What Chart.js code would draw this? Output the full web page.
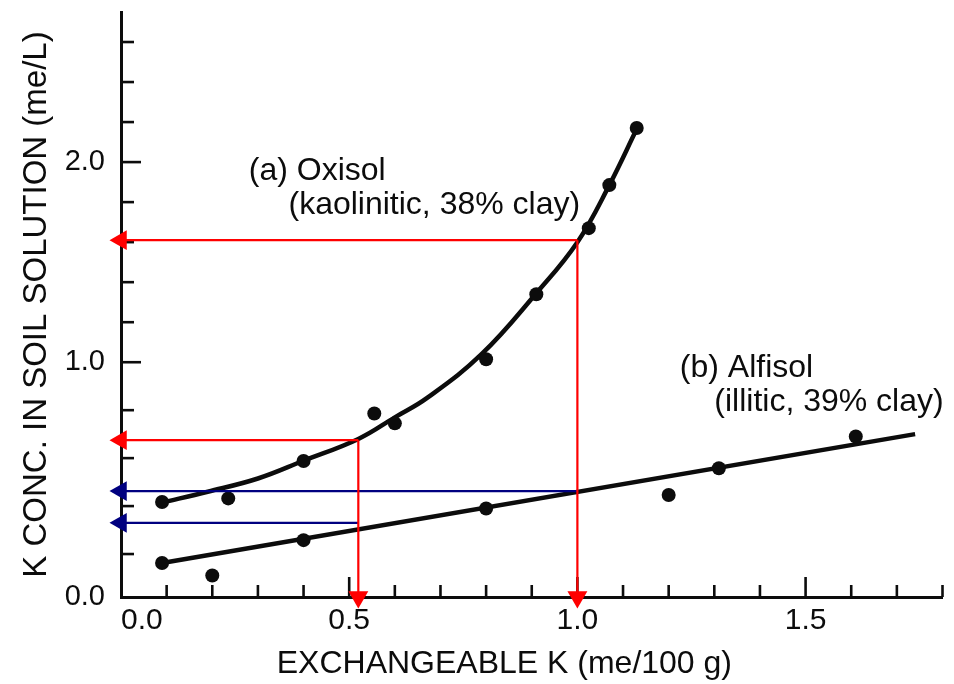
<!DOCTYPE html>
<html>
<head>
<meta charset="utf-8">
<script src="https://cdn.jsdelivr.net/npm/chart.js@4.4.1/dist/chart.umd.min.js"></script>
<style>
  html, body { margin: 0; padding: 0; background: #ffffff; }
  #wrap { width: 954px; height: 684px; }
</style>
</head>
<body>
<div id="wrap"><canvas id="c" width="954" height="684"></canvas></div>
<script>
// ---------------- data ----------------
// (a) Oxisol measured points
const oxisolK    = [0.09, 0.235, 0.40, 0.555, 0.60, 0.80, 0.91, 1.025, 1.07, 1.13];
const oxisolConc = [0.417, 0.432, 0.588, 0.786, 0.745, 1.015, 1.34, 1.67, 1.885, 2.17];
// (a) Oxisol fitted curve
const oxisolCurveK    = [0.09, 0.19, 0.30, 0.40, 0.52, 0.60, 0.67, 0.79, 0.91, 1.00, 1.07, 1.13];
const oxisolCurveConc = [0.415, 0.46, 0.515, 0.589, 0.68, 0.77, 0.85, 1.04, 1.345, 1.60, 1.885, 2.165];
// (b) Alfisol measured points
const alfisolK    = [0.09, 0.20, 0.40, 0.80, 1.20, 1.31, 1.61];
const alfisolConc = [0.158, 0.10, 0.258, 0.39, 0.446, 0.558, 0.69];
// (b) Alfisol fitted line
const alfisolLineK    = [0.09, 1.74];
const alfisolLineConc = [0.158, 0.70];
// read-off arrows: exchangeable K levels and solution concentrations
const readK           = [0.52, 1.00];
const readOxisolConc  = [0.675, 1.61];
const readAlfisolConc = [0.33, 0.4625];
// axis text
const xTitle = 'EXCHANGEABLE K (me/100 g)';
const yTitle = 'K CONC. IN SOIL SOLUTION (me/L)';
const labelsA = ['(a) Oxisol', '(kaolinitic, 38% clay)'];
const labelsB = ['(b) Alfisol', '(illitic, 39% clay)'];

// ---------------- y axis of the original is not uniformly spaced ----------------
const yBreakValues = [0, 0.2, 1.0, 2.6];
const yBreakSpans  = [0, 43, 235, 555.5];

function warpY(v) {
  const n = yBreakValues.length;
  let i = 0;
  if (v <= yBreakValues[0]) i = 0;
  else if (v >= yBreakValues[n - 1]) i = n - 2;
  else { while (v > yBreakValues[i + 1]) i++; }
  const v0 = yBreakValues[i], v1 = yBreakValues[i + 1];
  const s0 = yBreakSpans[i], s1 = yBreakSpans[i + 1];
  return s0 + (v - v0) * (s1 - s0) / (v1 - v0);
}
function unwarpY(w) {
  const n = yBreakSpans.length;
  let i = 0;
  if (w <= yBreakSpans[0]) i = 0;
  else if (w >= yBreakSpans[n - 1]) i = n - 2;
  else { while (w > yBreakSpans[i + 1]) i++; }
  const v0 = yBreakValues[i], v1 = yBreakValues[i + 1];
  const s0 = yBreakSpans[i], s1 = yBreakSpans[i + 1];
  return v0 + (w - s0) * (v1 - v0) / (s1 - s0);
}

class WarpedLinearScale extends Chart.LinearScale {
  getPixelForValue(value) {
    if (value === null || value === undefined || isNaN(value)) return NaN;
    const w0 = warpY(this.min), w1 = warpY(this.max);
    return this.getPixelForDecimal((warpY(value) - w0) / (w1 - w0));
  }
  getValueForPixel(pixel) {
    const w0 = warpY(this.min), w1 = warpY(this.max);
    return unwarpY(w0 + this.getDecimalForPixel(pixel) * (w1 - w0));
  }
}
WarpedLinearScale.id = 'warpedLinear';
WarpedLinearScale.defaults = Chart.LinearScale.defaults;
Chart.register(WarpedLinearScale);

// ---------------- styles ----------------
const INK = '#0c0c0c';
const RED = '#ff0000';
const BLUE = '#000080';
const FAMILY = '"Liberation Sans", Arial, Helvetica, sans-serif';

const zip = (xs, ys) => xs.map((x, i) => ({ x: x, y: ys[i] }));
const near = (a, b) => Math.abs(a - b) < 1e-6;

function arrowDataset(x0, y0, x1, y1, color, rotation) {
  return {
    type: 'line',
    data: [{ x: x0, y: y0 }, { x: x1, y: y1 }],
    borderColor: color,
    backgroundColor: color,
    borderWidth: 2.2,
    tension: 0,
    pointStyle: 'triangle',
    pointRadius: [0, 11.5],
    pointHoverRadius: [0, 11.5],
    pointRotation: [0, rotation],
    pointBackgroundColor: color,
    pointBorderColor: color,
    pointBorderWidth: 0,
    clip: false,
    order: 0
  };
}

const datasets = [];
for (let i = 0; i < readK.length; i++) {
  datasets.push(arrowDataset(readK[i], readOxisolConc[i], 0, readOxisolConc[i], RED, -90));
  datasets.push(arrowDataset(readK[i], readOxisolConc[i], readK[i], 0, RED, 180));
  datasets.push(arrowDataset(readK[i], readAlfisolConc[i], 0, readAlfisolConc[i], BLUE, -90));
}
datasets.push({
  type: 'line', label: 'Oxisol points', data: zip(oxisolK, oxisolConc),
  showLine: false, pointRadius: 7, pointBackgroundColor: INK, pointBorderWidth: 0, order: 1
});
datasets.push({
  type: 'line', label: 'Alfisol points', data: zip(alfisolK, alfisolConc),
  showLine: false, pointRadius: 7, pointBackgroundColor: INK, pointBorderWidth: 0, order: 1
});
datasets.push({
  type: 'line', label: 'Oxisol curve', data: zip(oxisolCurveK, oxisolCurveConc),
  borderColor: INK, borderWidth: 4.5, pointRadius: 0, tension: 0.4, order: 2
});
datasets.push({
  type: 'line', label: 'Alfisol line', data: zip(alfisolLineK, alfisolLineConc),
  borderColor: INK, borderWidth: 4.5, pointRadius: 0, tension: 0, order: 2
});

// inward tick marks drawn along the axes
const innerTicks = {
  id: 'innerTicks',
  beforeDatasetsDraw(chart) {
    const ctx = chart.ctx;
    const xs = chart.scales.x, ys = chart.scales.y;
    ctx.save();
    ctx.strokeStyle = INK;
    ctx.lineWidth = 2.6;
    ctx.lineCap = 'butt';
    ys.ticks.forEach(t => {
      if (t.value <= 0) return;
      const p = ys.getPixelForValue(t.value);
      const len = near(t.value, Math.round(t.value)) ? 20 : 13;
      ctx.beginPath(); ctx.moveTo(ys.right, p); ctx.lineTo(ys.right + len, p); ctx.stroke();
    });
    xs.ticks.forEach(t => {
      if (t.value <= 0) return;
      const p = xs.getPixelForValue(t.value);
      const len = near(t.value * 2, Math.round(t.value * 2)) ? 20 : 12;
      ctx.beginPath(); ctx.moveTo(p, xs.top); ctx.lineTo(p, xs.top - len); ctx.stroke();
    });
    ctx.restore();
  }
};

// curve labels and x-axis title
const textLayer = {
  id: 'textLayer',
  afterDraw(chart, args, opts) {
    const ctx = chart.ctx;
    const xs = chart.scales.x, ys = chart.scales.y;
    ctx.save();
    ctx.fillStyle = INK;
    ctx.textBaseline = 'middle';
    ctx.textAlign = 'left';
    ctx.font = '32px ' + FAMILY;
    opts.labels.forEach(l => {
      ctx.fillText(l.text, xs.getPixelForValue(l.x), ys.getPixelForValue(l.y));
    });
    ctx.textAlign = 'center';
    ctx.font = '32px ' + FAMILY;
    ctx.fillText(xTitle, xs.getPixelForValue(opts.xTitleAt), 664);
    ctx.restore();
  }
};

new Chart(document.getElementById('c'), {
  type: 'line',
  data: { datasets: datasets },
  options: {
    responsive: false,
    animation: false,
    events: [],
    layout: { padding: { left: 0, right: 4, top: 12, bottom: 0 } },
    plugins: {
      legend: { display: false },
      tooltip: { enabled: false },
      textLayer: {
        xTitleAt: 0.84,
        labels: [
          { text: labelsA[0], x: 0.28, y: 1.955 },
          { text: labelsA[1], x: 0.367, y: 1.785 },
          { text: labelsB[0], x: 1.2245, y: 0.975 },
          { text: labelsB[1], x: 1.30, y: 0.833 }
        ]
      }
    },
    scales: {
      x: {
        type: 'linear',
        min: 0,
        max: 1.8,
        grid: { display: false, drawTicks: false },
        border: { display: true, color: INK, width: 3 },
        ticks: {
          stepSize: 0.1,
          autoSkip: false,
          maxRotation: 0,
          minRotation: 0,
          align: 'inner',
          padding: 6,
          color: INK,
          font: { family: FAMILY, size: 30 },
          callback: v => (near(v * 2, Math.round(v * 2)) && v <= 1.5001) ? v.toFixed(1) : ''
        },
        afterFit: s => { s.height = 87; s.paddingLeft = 0; s.paddingRight = 0; }
      },
      y: {
        type: 'warpedLinear',
        min: 0,
        max: 2.75,
        grid: { display: false, drawTicks: false },
        border: { display: true, color: INK, width: 3 },
        ticks: {
          stepSize: 0.2,
          includeBounds: false,
          autoSkip: false,
          padding: 16,
          color: INK,
          font: { family: FAMILY, size: 29 },
          callback: v => near(v, Math.round(v)) ? v.toFixed(1) : ''
        },
        title: {
          display: true,
          text: yTitle,
          color: INK,
          font: { family: FAMILY, size: 33, lineHeight: 1 },
          padding: { top: 20, bottom: 0 }
        },
        afterFit: s => { s.width = 121; s.paddingTop = 0; s.paddingBottom = 0; }
      }
    }
  },
  plugins: [innerTicks, textLayer]
});
</script>
</body>
</html>
